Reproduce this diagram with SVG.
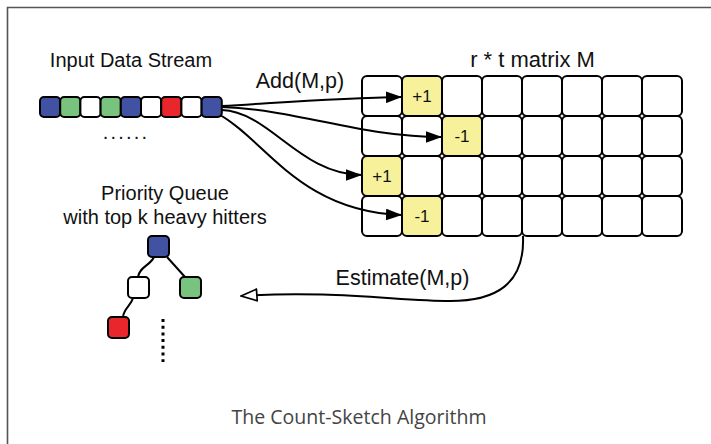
<svg xmlns="http://www.w3.org/2000/svg" width="711" height="444" viewBox="0 0 711 444">
<style>
.lbl{font-family:"Liberation Sans",Arial,sans-serif;fill:#111;}
.cell{fill:#fff;stroke:#000;stroke-width:2;}
.hit{fill:#f7f19b;}
.box{stroke:#000;stroke-width:2;}
.blue{fill:#4152a2;}
.green{fill:#78c47f;}
.red{fill:#e8262c;}
.white{fill:#fff;}
.conn{fill:none;stroke:#000;stroke-width:2;}
.num{font-family:"Liberation Sans",Arial,sans-serif;font-size:17px;fill:#111;text-anchor:middle;}
</style>
<defs>
<marker id="ah" markerUnits="userSpaceOnUse" markerWidth="16" markerHeight="12" viewBox="0 0 15 11" refX="15" refY="5.5" orient="auto">
<path d="M0,0 L15,5.5 L0,11 z" fill="#000"/>
</marker>
<marker id="ahh" markerUnits="userSpaceOnUse" markerWidth="18" markerHeight="14" viewBox="-1 -1 17 13" refX="15" refY="5.5" orient="auto">
<path d="M0,0 L15,5.5 L0,11 z" fill="#fff" stroke="#000" stroke-width="1.6"/>
</marker>
</defs>
<rect width="711" height="444" fill="#fff"/>
<path d="M7.5,444 V7.5 H711" fill="none" stroke="#555" stroke-width="1.6"/>

<g id="stream">
<text class="lbl" x="131" y="67" font-size="20" text-anchor="middle">Input Data Stream</text>
<rect class="box blue" x="40" y="97" width="20.2" height="20" rx="4"/>
<rect class="box green" x="60.2" y="97" width="20.2" height="20" rx="4"/>
<rect class="box white" x="80.4" y="97" width="20.2" height="20" rx="4"/>
<rect class="box green" x="100.6" y="97" width="20.2" height="20" rx="4"/>
<rect class="box blue" x="120.8" y="97" width="20.2" height="20" rx="4"/>
<rect class="box white" x="141" y="97" width="20.2" height="20" rx="4"/>
<rect class="box red" x="161.2" y="97" width="20.2" height="20" rx="4"/>
<rect class="box white" x="181.4" y="97" width="20.2" height="20" rx="4"/>
<rect class="box blue" x="201.6" y="97" width="20.2" height="20" rx="4"/>
<text class="lbl" x="126" y="139" font-size="20" text-anchor="middle" letter-spacing="2.2">......</text>
</g>

<g id="matrix">
<text class="lbl" x="532.5" y="67" font-size="22" text-anchor="middle">r * t matrix M</text>
<g>
<rect class="cell" x="362" y="76" width="40" height="40" rx="5"/>
<rect class="cell hit" x="402" y="76" width="40" height="40" rx="5"/>
<rect class="cell" x="442" y="76" width="40" height="40" rx="5"/>
<rect class="cell" x="482" y="76" width="40" height="40" rx="5"/>
<rect class="cell" x="522" y="76" width="40" height="40" rx="5"/>
<rect class="cell" x="562" y="76" width="40" height="40" rx="5"/>
<rect class="cell" x="602" y="76" width="40" height="40" rx="5"/>
<rect class="cell" x="642" y="76" width="40" height="40" rx="5"/>

<rect class="cell" x="362" y="116" width="40" height="40" rx="5"/>
<rect class="cell" x="402" y="116" width="40" height="40" rx="5"/>
<rect class="cell hit" x="442" y="116" width="40" height="40" rx="5"/>
<rect class="cell" x="482" y="116" width="40" height="40" rx="5"/>
<rect class="cell" x="522" y="116" width="40" height="40" rx="5"/>
<rect class="cell" x="562" y="116" width="40" height="40" rx="5"/>
<rect class="cell" x="602" y="116" width="40" height="40" rx="5"/>
<rect class="cell" x="642" y="116" width="40" height="40" rx="5"/>

<rect class="cell hit" x="362" y="156" width="40" height="40" rx="5"/>
<rect class="cell" x="402" y="156" width="40" height="40" rx="5"/>
<rect class="cell" x="442" y="156" width="40" height="40" rx="5"/>
<rect class="cell" x="482" y="156" width="40" height="40" rx="5"/>
<rect class="cell" x="522" y="156" width="40" height="40" rx="5"/>
<rect class="cell" x="562" y="156" width="40" height="40" rx="5"/>
<rect class="cell" x="602" y="156" width="40" height="40" rx="5"/>
<rect class="cell" x="642" y="156" width="40" height="40" rx="5"/>

<rect class="cell" x="362" y="196" width="40" height="40" rx="5"/>
<rect class="cell hit" x="402" y="196" width="40" height="40" rx="5"/>
<rect class="cell" x="442" y="196" width="40" height="40" rx="5"/>
<rect class="cell" x="482" y="196" width="40" height="40" rx="5"/>
<rect class="cell" x="522" y="196" width="40" height="40" rx="5"/>
<rect class="cell" x="562" y="196" width="40" height="40" rx="5"/>
<rect class="cell" x="602" y="196" width="40" height="40" rx="5"/>
<rect class="cell" x="642" y="196" width="40" height="40" rx="5"/>
</g>
<text class="num" x="422" y="102">+1</text>
<text class="num" x="462" y="142">-1</text>
<text class="num" x="382" y="182">+1</text>
<text class="num" x="422" y="222">-1</text>
</g>

<g id="queue">
<text class="lbl" x="165" y="200" font-size="20" text-anchor="middle">Priority Queue</text>
<text class="lbl" x="165" y="224" font-size="20" text-anchor="middle">with top k heavy hitters</text>
<g class="conn">
<path d="M154,257 C150,266 140,266 138,277"/>
<path d="M167,257 L185,277"/>
<path d="M133,298 C131,306 124,308 123,317"/>
</g>
<rect class="box blue" x="148" y="236" width="21" height="21" rx="4"/>
<rect class="box white" x="128" y="277" width="21" height="21" rx="4"/>
<rect class="box green" x="180" y="277" width="21" height="21" rx="4"/>
<rect class="box red" x="108" y="317" width="21" height="21" rx="4"/>
<line x1="163" y1="319" x2="163" y2="362" stroke="#000" stroke-width="3" stroke-dasharray="3 3.7"/>
</g>

<g id="connectors">
<path class="conn" d="M222,106 C290,102 340,98 402,97" marker-end="url(#ah)"/>
<path class="conn" d="M222,107 C300,110 360,137 442,137" marker-end="url(#ah)"/>
<path class="conn" d="M222,110 C270,112 300,175 362,175" marker-end="url(#ah)"/>
<path class="conn" d="M220,115 C265,140 300,212 402,215" marker-end="url(#ah)"/>
<path class="conn" d="M523,236 C525,285 495,301 450,301 C400,301 330,290 241,296" marker-end="url(#ahh)"/>
<text class="lbl" x="300" y="88" font-size="21.5" text-anchor="middle">Add(M,p)</text>
<text class="lbl" x="402.5" y="285" font-size="21.5" text-anchor="middle">Estimate(M,p)</text>
</g>

<text x="359" y="424" font-family="'Open Sans','Noto Sans',sans-serif" font-size="20" fill="#444" text-anchor="middle" textLength="255" lengthAdjust="spacingAndGlyphs">The Count-Sketch Algorithm</text>
</svg>
